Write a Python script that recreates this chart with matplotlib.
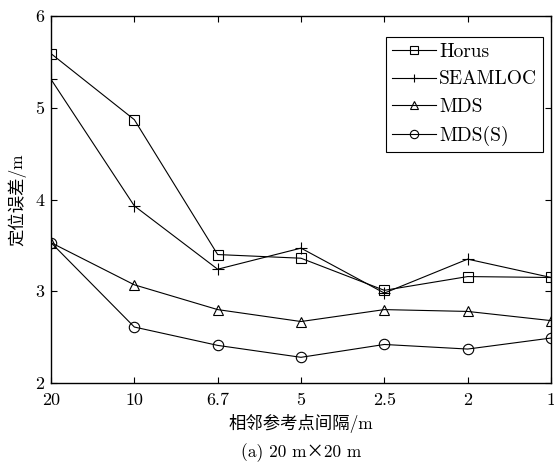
import matplotlib
matplotlib.use("Agg")
import matplotlib.pyplot as plt

plt.rcParams['font.family'] = ['cmr10', 'Noto Sans CJK SC', 'DejaVu Serif']
plt.rcParams['axes.unicode_minus'] = False

spacing = ["20", "10", "6.7", "5", "2.5", "2", "1"]
horus = [5.59, 4.87, 3.40, 3.36, 3.01, 3.16, 3.15]
seamloc = [5.31, 3.93, 3.24, 3.47, 2.98, 3.35, 3.15]
mds = [3.53, 3.07, 2.80, 2.67, 2.80, 2.78, 2.68]
mds_s = [3.53, 2.61, 2.41, 2.28, 2.42, 2.37, 2.49]

fig = plt.figure(figsize=(5.54, 4.63), dpi=100)
ax = fig.add_axes([51 / 554, 1 - 383 / 463, 500 / 554, 367 / 463])

x = range(len(spacing))
style = dict(color="black", linewidth=0.8, markerfacecolor="none",
             markeredgecolor="black", markeredgewidth=0.8)
ax.plot(x, horus, marker="s", markersize=6.5, label="Horus", **style)
ax.plot(x, seamloc, marker="+", markersize=8, label="SEAMLOC", **style)
ax.plot(x, mds, marker="^", markersize=7.5, label="MDS", **style)
ax.plot(x, mds_s, marker="o", markersize=7.5, label="MDS(S)", **style)

ax.set_xlim(0, len(spacing) - 1)
ax.set_ylim(2, 6)
ax.set_xticks(list(x))
ax.set_xticklabels(spacing)
ax.set_yticks([2, 3, 4, 5, 6])
ax.tick_params(direction="in", top=True, right=True, length=4, width=0.8,
               labelsize=13)
ax.tick_params(axis="x", pad=7)
ax.tick_params(axis="y", pad=5)
for s in ax.spines.values():
    s.set_linewidth(1.0)

ax.set_ylabel("定位误差/m", fontsize=12.5, labelpad=6)
ax.set_xlabel("相邻参考点间隔/m", fontsize=12.5, labelpad=4)
fig.text(0.543, 1 - 453 / 463, "(a) 20 m×20 m", ha="center", va="center",
         fontsize=12.5)

leg = ax.legend(loc="upper right", bbox_to_anchor=(0.984, 0.943),
                fontsize=14, fancybox=False, framealpha=1,
                edgecolor="black", handlelength=2.3, handletextpad=0.15,
                borderpad=0.3, labelspacing=0.5, borderaxespad=0,
                markerscale=0.8)
leg.get_frame().set_linewidth(0.8)

fig.savefig("out.png", dpi=100)
